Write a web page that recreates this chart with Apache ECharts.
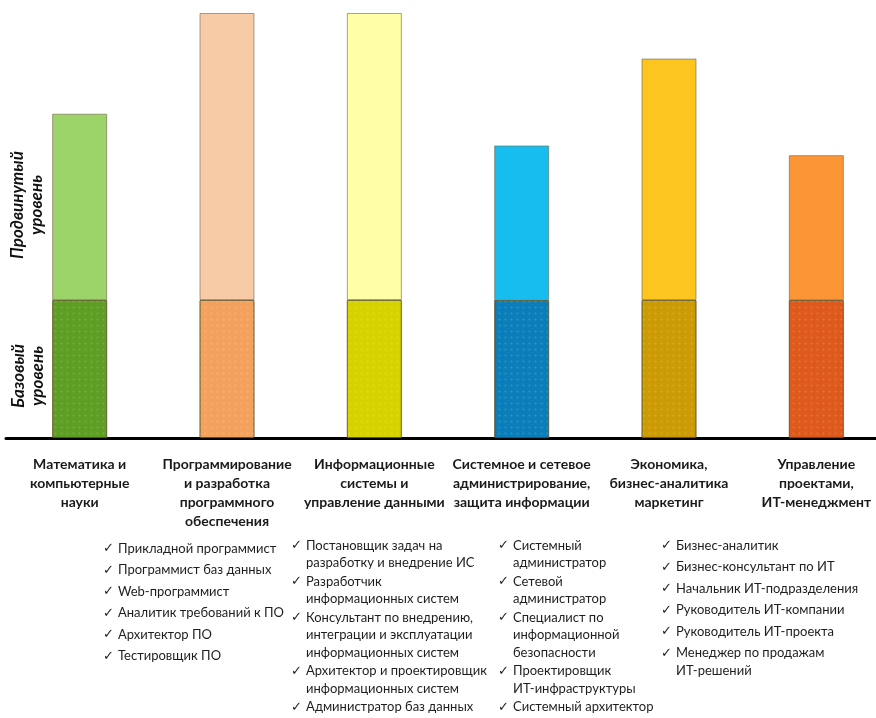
<!DOCTYPE html>
<html>
<head>
<meta charset="utf-8">
<script src="https://cdn.jsdelivr.net/npm/echarts@6/dist/echarts.min.js"></script>
<style>
  html, body { margin: 0; padding: 0; background: #fff; }
  #chart { width: 876px; height: 718px; }
</style>
</head>
<body>
<div id="chart"></div>
<script>
// направления подготовки
var categories = [
    'Математика и\nкомпьютерные\nнауки',
    'Программирование\nи разработка\nпрограммного\nобеспечения',
    'Информационные\nсистемы и\nуправление данными',
    'Системное и сетевое\nадминистрирование,\nзащита информации',
    'Экономика,\nбизнес-аналитика\nмаркетинг',
    'Управление\nпроектами,\nИТ-менеджмент'
];
var baseLevel = [1, 1, 1, 1, 1, 1];
var advancedLevel = [1.35, 2.08, 2.08, 1.12, 1.75, 1.05];
var baseColors = ['#5f9e25', '#f3a25e', '#d6d200', '#0b7db8', '#cc9a06', '#de5a1c'];
var advancedColors = ['#9cd46a', '#f8cba7', '#ffffa8', '#18bdf0', '#fcc520', '#fc9535'];

var levelNames = ['Базовый\nуровень', 'Продвинутый\nуровень'];

// профессии под диаграммой
var jobsProgramming = ['Прикладной программист', 'Программист баз данных', 'Web-программист',
    'Аналитик требований к ПО', 'Архитектор ПО', 'Тестировщик ПО'];
var jobsInfoSystems = ['Постановщик задач на\nразработку и внедрение ИС', 'Разработчик\nинформационных систем',
    'Консультант по внедрению,\nинтеграции и эксплуатации\nинформационных систем',
    'Архитектор и проектировщик\nинформационных систем', 'Администратор баз данных'];
var jobsAdmin = ['Системный\nадминистратор', 'Сетевой\nадминистратор',
    'Специалист по\nинформационной\nбезопасности', 'Проектировщик\nИТ-инфраструктуры', 'Системный архитектор'];
var jobsManagement = ['Бизнес-аналитик', 'Бизнес-консультант по ИТ', 'Начальник ИТ-подразделения',
    'Руководитель ИТ-компании', 'Руководитель ИТ-проекта', 'Менеджер по продажам\nИТ-решений'];

(function () {
    var chartDom = document.getElementById('chart');
    var myChart = echarts.init(chartDom);

    var font = 'Lato, "Noto Sans", "DejaVu Sans", sans-serif';
    var lists = [
        { items: jobsProgramming, x: 103, top: 540, gap: 4 },
        { items: jobsInfoSystems, x: 291, top: 537, gap: 1 },
        { items: jobsAdmin, x: 498, top: 537, gap: 1 },
        { items: jobsManagement, x: 661, top: 537, gap: 4 }
    ];
    var lineH = 17.5;

    var graphics = [];
    lists.forEach(function (list) {
        var y = list.top;
        list.items.forEach(function (item) {
            graphics.push({
                type: 'text', left: list.x, top: y,
                style: { text: '✓', fontSize: 13, fontFamily: '"DejaVu Sans", sans-serif', fill: '#222', lineHeight: lineH }
            });
            graphics.push({
                type: 'text', left: list.x + 15, top: y,
                style: { text: item, fontSize: 13, fontFamily: font, fill: '#1e1e1e', lineHeight: lineH }
            });
            y += item.split('\n').length * lineH + list.gap;
        });
    });

    // подписи уровней слева
    graphics.push({
        type: 'text', x: 28, y: 376, rotation: Math.PI / 2,
        style: {
            text: levelNames[0], align: 'center', verticalAlign: 'middle',
            font: 'italic bold 17px ' + font, lineHeight: 19, fill: '#111'
        }
    });
    graphics.push({
        type: 'text', x: 27, y: 205, rotation: Math.PI / 2,
        style: {
            text: levelNames[1], align: 'center', verticalAlign: 'middle',
            font: 'italic bold 17px ' + font, lineHeight: 19, fill: '#111'
        }
    });

    var option = {
        backgroundColor: '#fff',
        animation: false,
        grid: {
            left: 6,
            right: -14,
            top: 13,
            bottom: 280,
            containLabel: false,
            outerBoundsMode: 'none'
        },
        xAxis: {
            type: 'category',
            data: categories,
            axisTick: { show: false },
            axisLine: {
                lineStyle: { color: '#000', width: 3 }
            },
            axisLabel: {
                interval: 0,
                margin: 17,
                color: '#1a1a1a',
                fontFamily: font,
                fontWeight: 'bold',
                fontSize: 14,
                lineHeight: 19,
                align: 'center'
            }
        },
        yAxis: {
            type: 'value',
            min: 0,
            max: 3.08,
            show: false,
            splitLine: { show: false }
        },
        series: [
            {
                name: 'Базовый уровень',
                type: 'bar',
                stack: 'level',
                barWidth: 55,
                data: baseLevel.map(function (v, i) {
                    return { value: v, itemStyle: { color: baseColors[i] } };
                }),
                itemStyle: {
                    borderColor: 'rgba(90,80,40,0.55)',
                    borderWidth: 1,
                    decal: {
                        symbol: 'diamond',
                        symbolSize: 1,
                        dashArrayX: 3,
                        dashArrayY: 3,
                        color: 'rgba(255,255,255,0.12)'
                    }
                }
            },
            {
                name: 'Продвинутый уровень',
                type: 'bar',
                stack: 'level',
                barWidth: 55,
                data: advancedLevel.map(function (v, i) {
                    return { value: v, itemStyle: { color: advancedColors[i] } };
                }),
                itemStyle: {
                    borderColor: 'rgba(110,100,70,0.6)',
                    borderWidth: 1
                }
            }
        ],
        graphic: graphics
    };

    myChart.setOption(option);

    window.addEventListener('resize', function () {
        myChart.resize();
    });
})();
</script>
</body>
</html>
